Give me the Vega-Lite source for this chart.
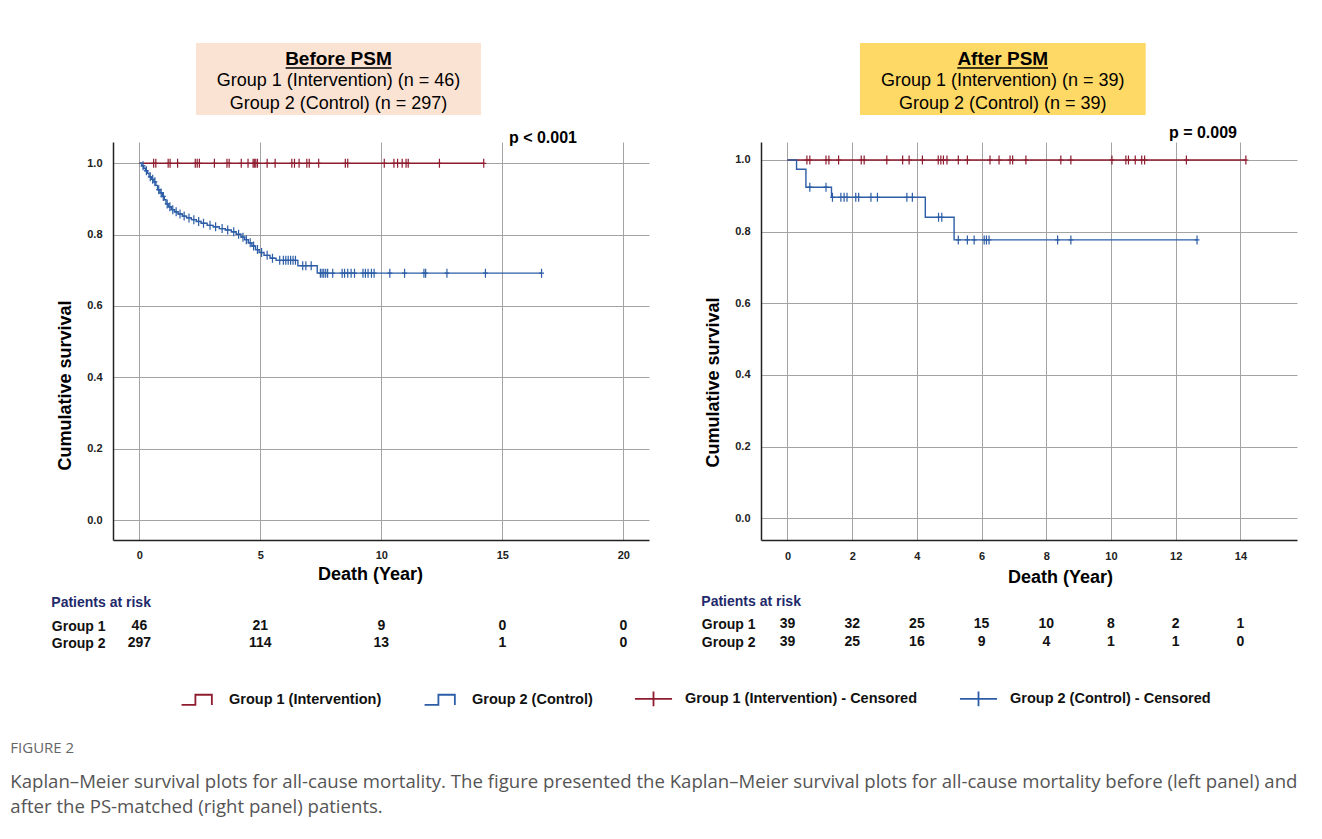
{
"$schema": "https://vega.github.io/schema/vega-lite/v6.json",
"background": "white",
"padding": {"left": 10, "top": 43, "right": 5, "bottom": 5},
"config": {"font": "Liberation Sans", "view": {"stroke": null}},
"title": {"text": "FIGURE 2", "subtitle": ["Kaplan–Meier survival plots for all-cause mortality. The figure presented the Kaplan–Meier survival plots for all-cause mortality before (left panel) and", "after the PS-matched (right panel) patients."], "orient": "bottom", "anchor": "start", "frame": "bounds", "dx": -41, "offset": 31, "baseline": "top", "font": "Open Sans", "fontSize": 15, "fontWeight": "normal", "color": "#666666", "subtitleFont": "Open Sans", "subtitleFontSize": 18.6, "subtitleColor": "#555555", "subtitleLineHeight": 25, "subtitlePadding": 17},
"datasets": {
 "box_before": [{"line": 1, "text": "Before PSM"}, {"line": 2, "text": "Group 1 (Intervention) (n = 46)"}, {"line": 3, "text": "Group 2 (Control) (n = 297)"}],
 "box_after": [{"line": 1, "text": "After PSM"}, {"line": 2, "text": "Group 1 (Intervention) (n = 39)"}, {"line": 3, "text": "Group 2 (Control) (n = 39)"}],
 "km_before": [
  {"series": "Group 1 (Intervention)", "t": 0, "s": 1}, {"series": "Group 1 (Intervention)", "t": 14.23, "s": 1},
  {"series": "Group 2 (Control)", "t": 0, "s": 1.0}, {"series": "Group 2 (Control)", "t": 0.10, "s": 0.993}, {"series": "Group 2 (Control)", "t": 0.18, "s": 0.986}, {"series": "Group 2 (Control)", "t": 0.25, "s": 0.979}, {"series": "Group 2 (Control)", "t": 0.33, "s": 0.972}, {"series": "Group 2 (Control)", "t": 0.40, "s": 0.962}, {"series": "Group 2 (Control)", "t": 0.50, "s": 0.955}, {"series": "Group 2 (Control)", "t": 0.60, "s": 0.948}, {"series": "Group 2 (Control)", "t": 0.68, "s": 0.938}, {"series": "Group 2 (Control)", "t": 0.75, "s": 0.926}, {"series": "Group 2 (Control)", "t": 0.85, "s": 0.917}, {"series": "Group 2 (Control)", "t": 0.95, "s": 0.907}, {"series": "Group 2 (Control)", "t": 1.03, "s": 0.898}, {"series": "Group 2 (Control)", "t": 1.10, "s": 0.886}, {"series": "Group 2 (Control)", "t": 1.20, "s": 0.878}, {"series": "Group 2 (Control)", "t": 1.32, "s": 0.870}, {"series": "Group 2 (Control)", "t": 1.45, "s": 0.864}, {"series": "Group 2 (Control)", "t": 1.60, "s": 0.858}, {"series": "Group 2 (Control)", "t": 1.78, "s": 0.852}, {"series": "Group 2 (Control)", "t": 1.95, "s": 0.847}, {"series": "Group 2 (Control)", "t": 2.15, "s": 0.842}, {"series": "Group 2 (Control)", "t": 2.35, "s": 0.837}, {"series": "Group 2 (Control)", "t": 2.55, "s": 0.832}, {"series": "Group 2 (Control)", "t": 2.80, "s": 0.826}, {"series": "Group 2 (Control)", "t": 3.05, "s": 0.822}, {"series": "Group 2 (Control)", "t": 3.30, "s": 0.817}, {"series": "Group 2 (Control)", "t": 3.55, "s": 0.813}, {"series": "Group 2 (Control)", "t": 3.80, "s": 0.808}, {"series": "Group 2 (Control)", "t": 4.00, "s": 0.801}, {"series": "Group 2 (Control)", "t": 4.20, "s": 0.793}, {"series": "Group 2 (Control)", "t": 4.35, "s": 0.786}, {"series": "Group 2 (Control)", "t": 4.50, "s": 0.777}, {"series": "Group 2 (Control)", "t": 4.65, "s": 0.768}, {"series": "Group 2 (Control)", "t": 4.80, "s": 0.758}, {"series": "Group 2 (Control)", "t": 4.95, "s": 0.750}, {"series": "Group 2 (Control)", "t": 5.15, "s": 0.742}, {"series": "Group 2 (Control)", "t": 5.40, "s": 0.734}, {"series": "Group 2 (Control)", "t": 5.65, "s": 0.728}, {"series": "Group 2 (Control)", "t": 6.55, "s": 0.713}, {"series": "Group 2 (Control)", "t": 7.35, "s": 0.692}, {"series": "Group 2 (Control)", "t": 16.62, "s": 0.692}
 ],
 "cens_before": [
  {"series": "Group 1 (Intervention) - Censored", "t": 0.59, "s": 1}, {"series": "Group 1 (Intervention) - Censored", "t": 0.68, "s": 1}, {"series": "Group 1 (Intervention) - Censored", "t": 1.19, "s": 1}, {"series": "Group 1 (Intervention) - Censored", "t": 1.27, "s": 1}, {"series": "Group 1 (Intervention) - Censored", "t": 1.58, "s": 1}, {"series": "Group 1 (Intervention) - Censored", "t": 2.31, "s": 1}, {"series": "Group 1 (Intervention) - Censored", "t": 2.39, "s": 1}, {"series": "Group 1 (Intervention) - Censored", "t": 2.48, "s": 1}, {"series": "Group 1 (Intervention) - Censored", "t": 3.10, "s": 1}, {"series": "Group 1 (Intervention) - Censored", "t": 3.62, "s": 1}, {"series": "Group 1 (Intervention) - Censored", "t": 3.71, "s": 1}, {"series": "Group 1 (Intervention) - Censored", "t": 4.21, "s": 1}, {"series": "Group 1 (Intervention) - Censored", "t": 4.49, "s": 1}, {"series": "Group 1 (Intervention) - Censored", "t": 4.70, "s": 1}, {"series": "Group 1 (Intervention) - Censored", "t": 4.75, "s": 1}, {"series": "Group 1 (Intervention) - Censored", "t": 4.81, "s": 1}, {"series": "Group 1 (Intervention) - Censored", "t": 4.88, "s": 1}, {"series": "Group 1 (Intervention) - Censored", "t": 5.28, "s": 1}, {"series": "Group 1 (Intervention) - Censored", "t": 5.61, "s": 1}, {"series": "Group 1 (Intervention) - Censored", "t": 6.30, "s": 1}, {"series": "Group 1 (Intervention) - Censored", "t": 6.41, "s": 1}, {"series": "Group 1 (Intervention) - Censored", "t": 6.60, "s": 1}, {"series": "Group 1 (Intervention) - Censored", "t": 6.92, "s": 1}, {"series": "Group 1 (Intervention) - Censored", "t": 7.02, "s": 1}, {"series": "Group 1 (Intervention) - Censored", "t": 7.41, "s": 1}, {"series": "Group 1 (Intervention) - Censored", "t": 8.51, "s": 1}, {"series": "Group 1 (Intervention) - Censored", "t": 8.61, "s": 1}, {"series": "Group 1 (Intervention) - Censored", "t": 10.12, "s": 1}, {"series": "Group 1 (Intervention) - Censored", "t": 10.52, "s": 1}, {"series": "Group 1 (Intervention) - Censored", "t": 10.67, "s": 1}, {"series": "Group 1 (Intervention) - Censored", "t": 10.86, "s": 1}, {"series": "Group 1 (Intervention) - Censored", "t": 11.02, "s": 1}, {"series": "Group 1 (Intervention) - Censored", "t": 11.11, "s": 1}, {"series": "Group 1 (Intervention) - Censored", "t": 12.40, "s": 1}, {"series": "Group 1 (Intervention) - Censored", "t": 14.23, "s": 1},
  {"series": "Group 2 (Control) - Censored", "t": 0.15, "s": 0.993}, {"series": "Group 2 (Control) - Censored", "t": 0.29, "s": 0.979}, {"series": "Group 2 (Control) - Censored", "t": 0.45, "s": 0.962}, {"series": "Group 2 (Control) - Censored", "t": 0.55, "s": 0.955}, {"series": "Group 2 (Control) - Censored", "t": 0.64, "s": 0.948}, {"series": "Group 2 (Control) - Censored", "t": 0.80, "s": 0.926}, {"series": "Group 2 (Control) - Censored", "t": 0.90, "s": 0.917}, {"series": "Group 2 (Control) - Censored", "t": 0.99, "s": 0.907}, {"series": "Group 2 (Control) - Censored", "t": 1.15, "s": 0.886}, {"series": "Group 2 (Control) - Censored", "t": 1.26, "s": 0.878}, {"series": "Group 2 (Control) - Censored", "t": 1.38, "s": 0.870}, {"series": "Group 2 (Control) - Censored", "t": 1.52, "s": 0.864}, {"series": "Group 2 (Control) - Censored", "t": 1.68, "s": 0.858}, {"series": "Group 2 (Control) - Censored", "t": 1.85, "s": 0.852}, {"series": "Group 2 (Control) - Censored", "t": 2.05, "s": 0.847}, {"series": "Group 2 (Control) - Censored", "t": 2.25, "s": 0.842}, {"series": "Group 2 (Control) - Censored", "t": 2.45, "s": 0.837}, {"series": "Group 2 (Control) - Censored", "t": 2.65, "s": 0.832}, {"series": "Group 2 (Control) - Censored", "t": 2.92, "s": 0.826}, {"series": "Group 2 (Control) - Censored", "t": 3.15, "s": 0.822}, {"series": "Group 2 (Control) - Censored", "t": 3.42, "s": 0.817}, {"series": "Group 2 (Control) - Censored", "t": 3.65, "s": 0.813}, {"series": "Group 2 (Control) - Censored", "t": 3.90, "s": 0.808}, {"series": "Group 2 (Control) - Censored", "t": 4.10, "s": 0.801}, {"series": "Group 2 (Control) - Censored", "t": 4.28, "s": 0.793}, {"series": "Group 2 (Control) - Censored", "t": 4.42, "s": 0.786}, {"series": "Group 2 (Control) - Censored", "t": 4.58, "s": 0.777}, {"series": "Group 2 (Control) - Censored", "t": 4.72, "s": 0.768}, {"series": "Group 2 (Control) - Censored", "t": 4.88, "s": 0.758}, {"series": "Group 2 (Control) - Censored", "t": 5.05, "s": 0.750}, {"series": "Group 2 (Control) - Censored", "t": 5.28, "s": 0.742}, {"series": "Group 2 (Control) - Censored", "t": 5.50, "s": 0.734}, {"series": "Group 2 (Control) - Censored", "t": 5.80, "s": 0.728}, {"series": "Group 2 (Control) - Censored", "t": 5.95, "s": 0.728}, {"series": "Group 2 (Control) - Censored", "t": 6.05, "s": 0.728}, {"series": "Group 2 (Control) - Censored", "t": 6.15, "s": 0.728}, {"series": "Group 2 (Control) - Censored", "t": 6.25, "s": 0.728}, {"series": "Group 2 (Control) - Censored", "t": 6.35, "s": 0.728}, {"series": "Group 2 (Control) - Censored", "t": 6.45, "s": 0.728}, {"series": "Group 2 (Control) - Censored", "t": 6.75, "s": 0.713}, {"series": "Group 2 (Control) - Censored", "t": 6.88, "s": 0.713}, {"series": "Group 2 (Control) - Censored", "t": 7.10, "s": 0.713}, {"series": "Group 2 (Control) - Censored", "t": 7.48, "s": 0.692}, {"series": "Group 2 (Control) - Censored", "t": 7.55, "s": 0.692}, {"series": "Group 2 (Control) - Censored", "t": 7.62, "s": 0.692}, {"series": "Group 2 (Control) - Censored", "t": 7.70, "s": 0.692}, {"series": "Group 2 (Control) - Censored", "t": 7.78, "s": 0.692}, {"series": "Group 2 (Control) - Censored", "t": 7.99, "s": 0.692}, {"series": "Group 2 (Control) - Censored", "t": 8.38, "s": 0.692}, {"series": "Group 2 (Control) - Censored", "t": 8.48, "s": 0.692}, {"series": "Group 2 (Control) - Censored", "t": 8.61, "s": 0.692}, {"series": "Group 2 (Control) - Censored", "t": 8.75, "s": 0.692}, {"series": "Group 2 (Control) - Censored", "t": 8.89, "s": 0.692}, {"series": "Group 2 (Control) - Censored", "t": 9.24, "s": 0.692}, {"series": "Group 2 (Control) - Censored", "t": 9.34, "s": 0.692}, {"series": "Group 2 (Control) - Censored", "t": 9.45, "s": 0.692}, {"series": "Group 2 (Control) - Censored", "t": 9.59, "s": 0.692}, {"series": "Group 2 (Control) - Censored", "t": 9.70, "s": 0.692}, {"series": "Group 2 (Control) - Censored", "t": 10.35, "s": 0.692}, {"series": "Group 2 (Control) - Censored", "t": 10.96, "s": 0.692}, {"series": "Group 2 (Control) - Censored", "t": 11.76, "s": 0.692}, {"series": "Group 2 (Control) - Censored", "t": 11.83, "s": 0.692}, {"series": "Group 2 (Control) - Censored", "t": 12.71, "s": 0.692}, {"series": "Group 2 (Control) - Censored", "t": 14.30, "s": 0.692}, {"series": "Group 2 (Control) - Censored", "t": 16.62, "s": 0.692}
 ],
 "km_after": [
  {"series": "Group 1 (Intervention)", "t": 0, "s": 1}, {"series": "Group 1 (Intervention)", "t": 14.17, "s": 1},
  {"series": "Group 2 (Control)", "t": 0, "s": 1}, {"series": "Group 2 (Control)", "t": 0.28, "s": 0.974}, {"series": "Group 2 (Control)", "t": 0.57, "s": 0.924}, {"series": "Group 2 (Control)", "t": 1.36, "s": 0.896}, {"series": "Group 2 (Control)", "t": 4.26, "s": 0.840}, {"series": "Group 2 (Control)", "t": 5.15, "s": 0.777}, {"series": "Group 2 (Control)", "t": 12.66, "s": 0.777}
 ],
 "cens_after": [
  {"series": "Group 1 (Intervention) - Censored", "t": 0.60, "s": 1}, {"series": "Group 1 (Intervention) - Censored", "t": 0.69, "s": 1}, {"series": "Group 1 (Intervention) - Censored", "t": 1.19, "s": 1}, {"series": "Group 1 (Intervention) - Censored", "t": 1.28, "s": 1}, {"series": "Group 1 (Intervention) - Censored", "t": 1.58, "s": 1}, {"series": "Group 1 (Intervention) - Censored", "t": 2.28, "s": 1}, {"series": "Group 1 (Intervention) - Censored", "t": 2.37, "s": 1}, {"series": "Group 1 (Intervention) - Censored", "t": 3.07, "s": 1}, {"series": "Group 1 (Intervention) - Censored", "t": 3.56, "s": 1}, {"series": "Group 1 (Intervention) - Censored", "t": 3.76, "s": 1}, {"series": "Group 1 (Intervention) - Censored", "t": 4.17, "s": 1}, {"series": "Group 1 (Intervention) - Censored", "t": 4.66, "s": 1}, {"series": "Group 1 (Intervention) - Censored", "t": 4.74, "s": 1}, {"series": "Group 1 (Intervention) - Censored", "t": 4.82, "s": 1}, {"series": "Group 1 (Intervention) - Censored", "t": 4.93, "s": 1}, {"series": "Group 1 (Intervention) - Censored", "t": 5.28, "s": 1}, {"series": "Group 1 (Intervention) - Censored", "t": 5.56, "s": 1}, {"series": "Group 1 (Intervention) - Censored", "t": 6.26, "s": 1}, {"series": "Group 1 (Intervention) - Censored", "t": 6.54, "s": 1}, {"series": "Group 1 (Intervention) - Censored", "t": 6.88, "s": 1}, {"series": "Group 1 (Intervention) - Censored", "t": 6.96, "s": 1}, {"series": "Group 1 (Intervention) - Censored", "t": 7.37, "s": 1}, {"series": "Group 1 (Intervention) - Censored", "t": 8.45, "s": 1}, {"series": "Group 1 (Intervention) - Censored", "t": 8.76, "s": 1}, {"series": "Group 1 (Intervention) - Censored", "t": 10.03, "s": 1}, {"series": "Group 1 (Intervention) - Censored", "t": 10.46, "s": 1}, {"series": "Group 1 (Intervention) - Censored", "t": 10.54, "s": 1}, {"series": "Group 1 (Intervention) - Censored", "t": 10.75, "s": 1}, {"series": "Group 1 (Intervention) - Censored", "t": 10.95, "s": 1}, {"series": "Group 1 (Intervention) - Censored", "t": 11.04, "s": 1}, {"series": "Group 1 (Intervention) - Censored", "t": 12.33, "s": 1}, {"series": "Group 1 (Intervention) - Censored", "t": 14.17, "s": 1},
  {"series": "Group 2 (Control) - Censored", "t": 0.69, "s": 0.924}, {"series": "Group 2 (Control) - Censored", "t": 1.19, "s": 0.924}, {"series": "Group 2 (Control) - Censored", "t": 1.39, "s": 0.896}, {"series": "Group 2 (Control) - Censored", "t": 1.65, "s": 0.896}, {"series": "Group 2 (Control) - Censored", "t": 1.75, "s": 0.896}, {"series": "Group 2 (Control) - Censored", "t": 1.84, "s": 0.896}, {"series": "Group 2 (Control) - Censored", "t": 2.11, "s": 0.896}, {"series": "Group 2 (Control) - Censored", "t": 2.20, "s": 0.896}, {"series": "Group 2 (Control) - Censored", "t": 2.58, "s": 0.896}, {"series": "Group 2 (Control) - Censored", "t": 2.78, "s": 0.896}, {"series": "Group 2 (Control) - Censored", "t": 3.69, "s": 0.896}, {"series": "Group 2 (Control) - Censored", "t": 3.86, "s": 0.896}, {"series": "Group 2 (Control) - Censored", "t": 4.67, "s": 0.840}, {"series": "Group 2 (Control) - Censored", "t": 4.77, "s": 0.840}, {"series": "Group 2 (Control) - Censored", "t": 5.28, "s": 0.777}, {"series": "Group 2 (Control) - Censored", "t": 5.56, "s": 0.777}, {"series": "Group 2 (Control) - Censored", "t": 5.77, "s": 0.777}, {"series": "Group 2 (Control) - Censored", "t": 6.08, "s": 0.777}, {"series": "Group 2 (Control) - Censored", "t": 6.15, "s": 0.777}, {"series": "Group 2 (Control) - Censored", "t": 6.23, "s": 0.777}, {"series": "Group 2 (Control) - Censored", "t": 8.35, "s": 0.777}, {"series": "Group 2 (Control) - Censored", "t": 8.76, "s": 0.777}, {"series": "Group 2 (Control) - Censored", "t": 12.66, "s": 0.777}
 ],
 "risk_before": [
  {"group": "Group 1", "t": 0, "n": 46}, {"group": "Group 1", "t": 5, "n": 21}, {"group": "Group 1", "t": 10, "n": 9}, {"group": "Group 1", "t": 15, "n": 0}, {"group": "Group 1", "t": 20, "n": 0},
  {"group": "Group 2", "t": 0, "n": 297}, {"group": "Group 2", "t": 5, "n": 114}, {"group": "Group 2", "t": 10, "n": 13}, {"group": "Group 2", "t": 15, "n": 1}, {"group": "Group 2", "t": 20, "n": 0}
 ],
 "risk_after": [
  {"group": "Group 1", "t": 0, "n": 39}, {"group": "Group 1", "t": 2, "n": 32}, {"group": "Group 1", "t": 4, "n": 25}, {"group": "Group 1", "t": 6, "n": 15}, {"group": "Group 1", "t": 8, "n": 10}, {"group": "Group 1", "t": 10, "n": 8}, {"group": "Group 1", "t": 12, "n": 2}, {"group": "Group 1", "t": 14, "n": 1},
  {"group": "Group 2", "t": 0, "n": 39}, {"group": "Group 2", "t": 2, "n": 25}, {"group": "Group 2", "t": 4, "n": 16}, {"group": "Group 2", "t": 6, "n": 9}, {"group": "Group 2", "t": 8, "n": 4}, {"group": "Group 2", "t": 10, "n": 1}, {"group": "Group 2", "t": 12, "n": 1}, {"group": "Group 2", "t": 14, "n": 0}
 ]
},
"columns": 2,
"spacing": {"row": 27, "column": 112},
"bounds": "flush",
"resolve": {"scale": {"x": "independent", "y": "independent", "color": "shared"}, "axis": {"x": "independent", "y": "independent"}},
"concat": [
 {"width": 536, "height": 72, "data": {"name": "box_before"},
  "layer": [
   {"transform": [{"filter": "datum.line === 1"}], "mark": {"type": "rect", "color": "#FBE3D3"},
    "encoding": {"x": {"datum": 2.339, "type": "quantitative", "scale": {"domain": [-1.09, 21.06], "nice": false, "zero": false}, "axis": null}, "x2": {"datum": 14.116}, "y": {"value": 0}, "y2": {"value": "height"}}},
   {"transform": [{"filter": "datum.line === 1"}], "mark": {"type": "text", "fontSize": 19, "fontWeight": "bold", "color": "#000"},
    "encoding": {"x": {"datum": 8.227, "type": "quantitative"}, "y": {"field": "line", "type": "ordinal", "scale": {"type": "point", "domain": [1, 2, 3], "range": [16, 60.5], "padding": 0}, "axis": null}, "text": {"field": "text"}}},
   {"transform": [{"filter": "datum.line === 1"}], "mark": {"type": "rule", "yOffset": 9, "strokeWidth": 1.5, "color": "#000"},
    "encoding": {"x": {"datum": 6.045, "type": "quantitative"}, "x2": {"datum": 10.426}, "y": {"field": "line", "type": "ordinal"}}},
   {"transform": [{"filter": "datum.line > 1"}], "mark": {"type": "text", "fontSize": 18, "color": "#000"},
    "encoding": {"x": {"datum": 8.227, "type": "quantitative"}, "y": {"field": "line", "type": "ordinal"}, "text": {"field": "text"}}}
  ]},
 {"width": 536, "height": 72, "data": {"name": "box_after"},
  "layer": [
   {"transform": [{"filter": "datum.line === 1"}], "mark": {"type": "rect", "color": "#FFD966"},
    "encoding": {"x": {"datum": 2.241, "type": "quantitative", "scale": {"domain": [-0.819, 15.75], "nice": false, "zero": false}, "axis": null}, "x2": {"datum": 11.073}, "y": {"value": 0}, "y2": {"value": "height"}}},
   {"transform": [{"filter": "datum.line === 1"}], "mark": {"type": "text", "fontSize": 19, "fontWeight": "bold", "color": "#000"},
    "encoding": {"x": {"datum": 6.655, "type": "quantitative"}, "y": {"field": "line", "type": "ordinal", "scale": {"type": "point", "domain": [1, 2, 3], "range": [16, 60.5], "padding": 0}, "axis": null}, "text": {"field": "text"}}},
   {"transform": [{"filter": "datum.line === 1"}], "mark": {"type": "rule", "yOffset": 9, "strokeWidth": 1.5, "color": "#000"},
    "encoding": {"x": {"datum": 5.249, "type": "quantitative"}, "x2": {"datum": 8.053}, "y": {"field": "line", "type": "ordinal"}}},
   {"transform": [{"filter": "datum.line > 1"}], "mark": {"type": "text", "fontSize": 18, "color": "#000"},
    "encoding": {"x": {"datum": 6.655, "type": "quantitative"}, "y": {"field": "line", "type": "ordinal"}, "text": {"field": "text"}}}
  ]},
 {"width": 536, "height": 398,
  "title": {"text": "p < 0.001", "anchor": "end", "frame": "group", "dx": -72, "offset": -12, "baseline": "middle", "fontSize": 16, "fontWeight": "bold", "color": "#000"},
  "layer": [
   {"data": {"name": "km_before"}, "mark": {"type": "line", "interpolate": "step-after", "strokeWidth": 1.4},
    "encoding": {
     "x": {"field": "t", "type": "quantitative", "scale": {"domain": [-1.09, 21.06], "nice": false, "zero": false}, "axis": {"values": [0, 5, 10, 15, 20], "grid": true, "gridColor": "#a3a3a3", "gridWidth": 1, "ticks": false, "domainColor": "#222", "domainWidth": 1.5, "labelFontSize": 11, "labelFontWeight": "bold", "labelColor": "#222", "labelPadding": 9, "title": "Death (Year)", "titleFontSize": 18, "titleFontWeight": "bold", "titleColor": "#000", "titlePadding": 5, "titleX": 257}},
     "y": {"field": "s", "type": "quantitative", "scale": {"domain": [-0.056, 1.0597], "nice": false, "zero": false}, "axis": {"values": [0, 0.2, 0.4, 0.6, 0.8, 1], "format": ".1f", "grid": true, "gridColor": "#a3a3a3", "gridWidth": 1, "ticks": false, "domainColor": "#222", "domainWidth": 1.5, "labelFontSize": 11, "labelFontWeight": "bold", "labelColor": "#222", "labelPadding": 11, "title": "Cumulative survival", "titleFontSize": 18, "titleFontWeight": "bold", "titleColor": "#000", "titlePadding": 12, "titleY": 243}},
     "color": {"field": "series", "type": "nominal", "scale": {"domain": ["Group 1 (Intervention)", "Group 2 (Control)", "Group 1 (Intervention) - Censored", "Group 2 (Control) - Censored"], "range": ["#8E1B2E", "#2C5DA6", "#8E1B2E", "#2C5DA6"]},
      "legend": {"orient": "none", "legendX": 66, "legendY": 637, "direction": "horizontal", "columns": 4, "title": null, "columnPadding": 38, "padding": 0, "labelFontSize": 14.5, "labelFontWeight": "bold", "labelColor": "#111", "labelOffset": 13, "labelLimit": 400, "symbolSize": 1225, "symbolStrokeWidth": 1.8,
       "encode": {"symbols": {"update": {"shape": {"signal": "indexof(datum.value, 'Censored') >= 0 ? 'M-1.06,0H1.06M0,-0.42V0.42' : 'M-0.91,0.28H-0.12V-0.3H0.82V0.28'"}, "fill": {"value": "transparent"}, "stroke": {"signal": "indexof(datum.value, 'Group 1') === 0 ? '#8E1B2E' : '#2C5DA6'"}, "strokeWidth": {"value": 1.8}, "opacity": {"value": 1}, "size": {"value": 1225}}}}}}
    }},
   {"data": {"name": "cens_before"}, "mark": {"type": "point", "shape": "M0,-1V1M-0.55,0H0.55", "filled": false, "size": 81, "strokeWidth": 1.2, "opacity": 1},
    "encoding": {"x": {"field": "t", "type": "quantitative"}, "y": {"field": "s", "type": "quantitative"}, "color": {"field": "series", "type": "nominal"}}}
  ]},
 {"width": 536, "height": 398,
  "title": {"text": "p = 0.009", "anchor": "end", "frame": "group", "dx": -60, "offset": -7, "baseline": "middle", "fontSize": 16, "fontWeight": "bold", "color": "#000"},
  "layer": [
   {"data": {"name": "km_after"}, "mark": {"type": "line", "interpolate": "step-after", "strokeWidth": 1.4},
    "encoding": {
     "x": {"field": "t", "type": "quantitative", "scale": {"domain": [-0.819, 15.75], "nice": false, "zero": false}, "axis": {"values": [0, 2, 4, 6, 8, 10, 12, 14], "grid": true, "gridColor": "#a3a3a3", "gridWidth": 1, "ticks": false, "domainColor": "#222", "domainWidth": 1.5, "labelFontSize": 11, "labelFontWeight": "bold", "labelColor": "#222", "labelPadding": 10, "title": "Death (Year)", "titleFontSize": 18, "titleFontWeight": "bold", "titleColor": "#000", "titlePadding": 7, "titleX": 299}},
     "y": {"field": "s", "type": "quantitative", "scale": {"domain": [-0.0606, 1.0502], "nice": false, "zero": false}, "axis": {"values": [0, 0.2, 0.4, 0.6, 0.8, 1], "format": ".1f", "grid": true, "gridColor": "#a3a3a3", "gridWidth": 1, "ticks": false, "domainColor": "#222", "domainWidth": 1.5, "labelFontSize": 11, "labelFontWeight": "bold", "labelColor": "#222", "labelPadding": 11, "title": "Cumulative survival", "titleFontSize": 18, "titleFontWeight": "bold", "titleColor": "#000", "titlePadding": 12, "titleY": 240}},
     "color": {"field": "series", "type": "nominal"}
    }},
   {"data": {"name": "cens_after"}, "mark": {"type": "point", "shape": "M0,-1V1M-0.55,0H0.55", "filled": false, "size": 81, "strokeWidth": 1.2, "opacity": 1},
    "encoding": {"x": {"field": "t", "type": "quantitative"}, "y": {"field": "s", "type": "quantitative"}, "color": {"field": "series", "type": "nominal"}}}
  ]},
 {"width": 536, "height": 90, "data": {"name": "risk_before"},
  "title": {"text": "Patients at risk", "anchor": "start", "frame": "bounds", "offset": -50, "baseline": "middle", "fontSize": 14, "fontWeight": "bold", "color": "#1F2A6B"},
  "mark": {"type": "text", "fontSize": 14, "fontWeight": "bold", "color": "#111"},
  "encoding": {
   "x": {"field": "t", "type": "quantitative", "scale": {"domain": [-1.09, 21.06], "nice": false, "zero": false}, "axis": null},
   "y": {"field": "group", "type": "nominal", "scale": {"type": "point", "domain": ["Group 1", "Group 2"], "range": [59, 76], "padding": 0}, "axis": {"title": null, "domain": false, "ticks": false, "grid": false, "labelFontSize": 14, "labelFontWeight": "bold", "labelColor": "#111", "labelPadding": 8}},
   "text": {"field": "n", "type": "quantitative"}
  }},
 {"width": 536, "height": 90, "data": {"name": "risk_after"},
  "title": {"text": "Patients at risk", "anchor": "start", "frame": "bounds", "offset": -49, "baseline": "middle", "fontSize": 14, "fontWeight": "bold", "color": "#1F2A6B"},
  "mark": {"type": "text", "fontSize": 14, "fontWeight": "bold", "color": "#111"},
  "encoding": {
   "x": {"field": "t", "type": "quantitative", "scale": {"domain": [-0.819, 15.75], "nice": false, "zero": false}, "axis": null},
   "y": {"field": "group", "type": "nominal", "scale": {"type": "point", "domain": ["Group 1", "Group 2"], "range": [57, 75], "padding": 0}, "axis": {"title": null, "domain": false, "ticks": false, "grid": false, "labelFontSize": 14, "labelFontWeight": "bold", "labelColor": "#111", "labelPadding": 6}},
   "text": {"field": "n", "type": "quantitative"}
  }}
]
}
